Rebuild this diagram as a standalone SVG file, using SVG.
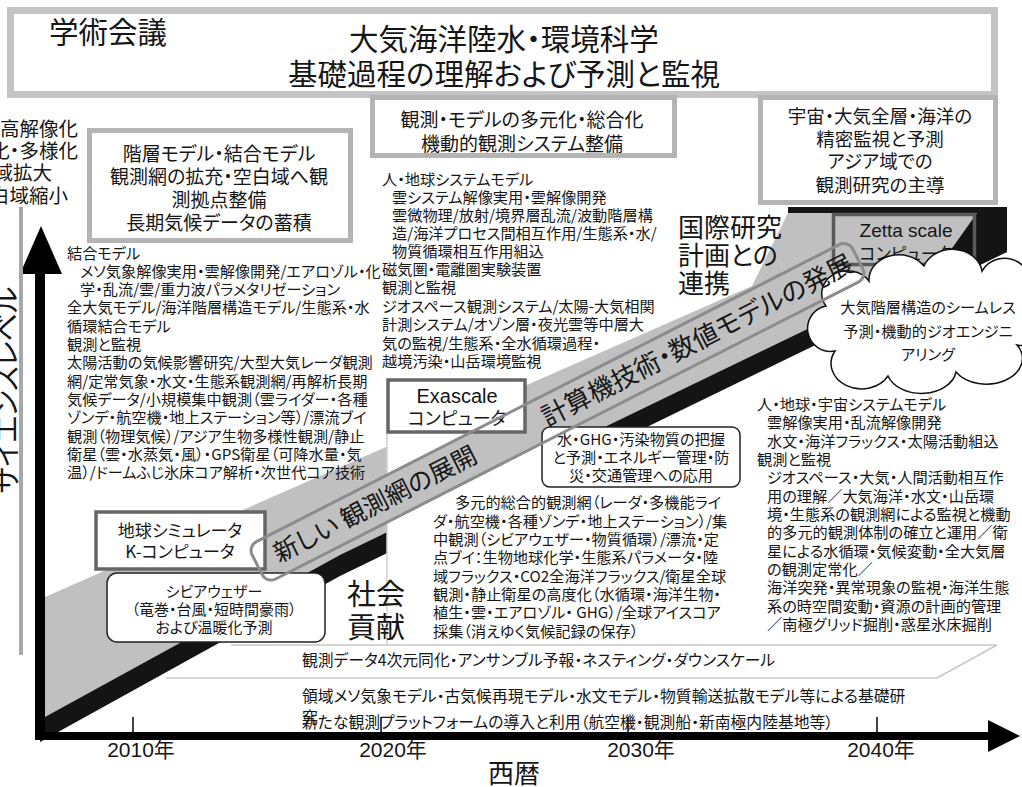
<svg xmlns="http://www.w3.org/2000/svg" width="1022" height="787" viewBox="0 0 1022 787">
<style>
.t{font-family:"Noto Sans CJK JP","Noto Sans CJK SC",sans-serif;fill:#161616;font-feature-settings:"palt"}
.b{font-size:15.2px}
.m{text-anchor:middle}
.lat{font-family:"Liberation Sans","Noto Sans CJK JP",sans-serif;fill:#161616}
.gbox{fill:#fff;stroke:#b4b4b4;stroke-width:5}
.dbox{fill:#fff;stroke:#666;stroke-width:3.5}
.faint{fill:none;stroke:#c8c8c8;stroke-width:1.5}
</style>
<rect width="1022" height="787" fill="#fff"/>

<g id="ramp">
<polygon points="40,742 40,712 340,551 1007,233 1007,252 340,576" fill="#141414"/>
<polygon points="45,597 752,286 788,213 977,213 940,265 340,555 45,717" fill="#c0c0c0"/>
<polygon points="788,207 1007,207 1007,252 935,272 940,265 977,213 788,213" fill="#141414"/>
</g>

<g id="lower-panel">
<rect x="387" y="433" width="366" height="212" fill="#fff"/>
<line x1="387" y1="433" x2="387" y2="645" stroke="#d0d0d0" stroke-width="1.5"/>
<polyline class="faint" points="231,645 997,645 937,678"/>
<line class="faint" x1="166" y1="678" x2="937" y2="678"/>
</g>

<g id="band-fill">
<rect transform="translate(561,410) rotate(-27)" x="-341" y="-21" width="674" height="42" rx="10" fill="#c0c0c0"/>
</g>

<g id="axes">
<line x1="40" y1="268" x2="40" y2="740" stroke="#000" stroke-width="10"/>
<polygon points="41,226 20,274 62,274" fill="#000"/>
<line x1="35" y1="736" x2="990" y2="736" stroke="#000" stroke-width="8"/>
<polygon points="988,720 1020,736 988,752" fill="#000"/>
<g stroke="#000" stroke-width="1.5">
<line x1="133" y1="717" x2="133" y2="736"/>
<line x1="381" y1="717" x2="381" y2="736"/>
<line x1="628" y1="717" x2="628" y2="736"/>
<line x1="877" y1="717" x2="877" y2="736"/>
</g>
<g class="lat m" font-size="21">
<text x="141" y="757">2010<tspan class="t">年</tspan></text>
<text x="393" y="757">2020<tspan class="t">年</tspan></text>
<text x="641" y="757">2030<tspan class="t">年</tspan></text>
<text x="881" y="757">2040<tspan class="t">年</tspan></text>
</g>
<text class="t" x="488" y="783" font-size="26">西暦</text>
<line x1="21" y1="207" x2="21" y2="655" stroke="#a8a8a8" stroke-width="4"/>
<text class="t m" transform="translate(17,390) rotate(-90)" font-size="28">サイエンスレベル</text>
</g>

<g id="title">
<rect x="10.5" y="10.5" width="984" height="84" fill="#fff" stroke="#c4c4c4" stroke-width="7"/>
<text class="t" x="49" y="43" font-size="29.5">学術会議</text>
<text class="t m" x="504" y="50" font-size="29.5">大気海洋陸水・環境科学</text>
<text class="t m" x="504" y="85" font-size="29.5">基礎過程の理解および予測と監視</text>
</g>

<g id="left-goals" class="t" font-size="19.5" text-anchor="end">
<text x="78" y="136">高解像化</text>
<text x="78" y="158">化・多様化</text>
<text x="52" y="180">域拡大</text>
<text x="68" y="203">白域縮小</text>
</g>

<g id="box-2010">
<rect class="gbox" x="89.5" y="130.5" width="261" height="110"/>
<g class="t m" font-size="19">
<text x="219" y="161">階層モデル・結合モデル</text>
<text x="219" y="184">観測網の拡充・空白域へ観</text>
<text x="219" y="207">測拠点整備</text>
<text x="219" y="230">長期気候データの蓄積</text>
</g>
</g>

<g id="box-2020">
<rect class="gbox" x="372.5" y="97.5" width="302" height="58"/>
<g class="t m" font-size="19">
<text x="522" y="127">観測・モデルの多元化・総合化</text>
<text x="522" y="151">機動的観測システム整備</text>
</g>
</g>

<g id="box-2040">
<rect class="gbox" x="760.5" y="97.5" width="235" height="105"/>
<g class="t m" font-size="18.5">
<text x="880" y="123">宇宙・大気全層・海洋の</text>
<text x="880" y="146">精密監視と予測</text>
<text x="880" y="168">アジア域での</text>
<text x="880" y="192">観測研究の主導</text>
</g>
</g>

<g id="text-left" class="t b">
<text x="67" y="259">結合モデル</text>
<text x="80" y="277">メソ気象解像実用・雲解像開発/エアロゾル・化</text>
<text x="80" y="295">学・乱流/雲/重力波パラメタリゼーション</text>
<text x="67" y="313">全大気モデル/海洋階層構造モデル/生態系・水</text>
<text x="67" y="332">循環結合モデル</text>
<text x="67" y="350">観測と監視</text>
<text x="67" y="368">太陽活動の気候影響研究/大型大気レーダ観測</text>
<text x="67" y="387">網/定常気象・水文・生態系観測網/再解析長期</text>
<text x="67" y="405">気候データ/小規模集中観測（雲ライダー・各種</text>
<text x="67" y="423">ゾンデ・航空機・地上ステーション等）/漂流ブイ</text>
<text x="67" y="442">観測（物理気候）/アジア生物多様性観測/静止</text>
<text x="67" y="460">衛星（雲・水蒸気・風）・GPS衛星（可降水量・気</text>
<text x="67" y="478">温）/ドームふじ氷床コア解析・次世代コア技術</text>
</g>

<g id="text-mid" class="t b">
<text x="382" y="185">人・地球システムモデル</text>
<text x="392" y="203">雲システム解像実用・雲解像開発</text>
<text x="392" y="221">雲微物理/放射/境界層乱流/波動階層構</text>
<text x="392" y="239">造/海洋プロセス間相互作用/生態系・水/</text>
<text x="392" y="257">物質循環相互作用組込</text>
<text x="382" y="275">磁気圏・電離圏実験装置</text>
<text x="382" y="293">観測と監視</text>
<text x="382" y="312">ジオスペース観測システム/太陽-大気相関</text>
<text x="382" y="330">計測システム/オゾン層・夜光雲等中層大</text>
<text x="382" y="349">気の監視/生態系・全水循環過程・</text>
<text x="382" y="367">越境汚染・山岳環境監視</text>
</g>

<g id="intl" class="t" font-size="26">
<text x="678" y="237">国際研究</text>
<text x="678" y="265">計画との</text>
<text x="678" y="293">連携</text>
</g>

<g id="zetta">
<rect x="833.5" y="214.5" width="141" height="50" fill="none" stroke="#5a5a5a" stroke-width="3.5"/>
<text class="lat m" x="906" y="237" font-size="19">Zetta scale</text>
<text class="t m" x="906" y="260" font-size="17">コンピュータ</text>
</g>

<g id="cloud">
<path d="M826,306 A25,22 0 0 1 869,281 A30,25 0 0 1 924,266 A30,25 0 0 1 982,271 A25,25 0 0 1 1027,298 A22,22 0 0 1 1017,345 A35,25 0 0 1 956,372 A35,25 0 0 1 888,376 A30,25 0 0 1 835,351 A22,22 0 0 1 826,306 Z" fill="#fff" stroke="#111" stroke-width="1.5"/>
<g class="t b m">
<text x="928" y="313">大気階層構造のシームレス</text>
<text x="928" y="337">予測・機動的ジオエンジニ</text>
<text x="928" y="360">アリング</text>
</g>
</g>

<g id="exascale">
<rect class="dbox" x="388" y="380" width="137" height="52"/>
<text class="lat m" x="457" y="403" font-size="20">Exascale</text>
<text class="t m" x="457" y="425" font-size="18">コンピュータ</text>
</g>

<g id="earth-sim">
<rect class="dbox" x="96" y="512" width="169" height="57"/>
<text class="t m" x="180" y="537" font-size="17">地球シミュレータ</text>
<text class="t m" x="180" y="558" font-size="17">K-コンピュータ</text>
</g>

<g id="severe">
<rect x="107" y="573" width="218" height="69" rx="10" fill="#fff" stroke="#222" stroke-width="1.5"/>
<g class="t m" font-size="15">
<text x="214" y="597">シビアウェザー</text>
<text x="214" y="615">（竜巻・台風・短時間豪雨）</text>
<text x="214" y="633">および温暖化予測</text>
</g>
</g>

<g id="society" class="t" font-size="29">
<text x="347" y="605">社会</text>
<text x="347" y="638">貢献</text>
</g>

<g id="ghg">
<rect x="542" y="427" width="198" height="60" rx="8" fill="#fff" stroke="#222" stroke-width="1.5"/>
<g class="t b m">
<text x="641" y="445">水・GHG・汚染物質の把握</text>
<text x="641" y="463">と予測・エネルギー管理・防</text>
<text x="641" y="481">災・交通管理への応用</text>
</g>
</g>

<g id="text-lowmid" class="t b">
<text x="455" y="508">多元的総合的観測網（レーダ・多機能ライ</text>
<text x="433" y="527">ダ・航空機・各種ゾンデ・地上ステーション）/集</text>
<text x="433" y="545">中観測（シビアウェザー・物質循環）/漂流・定</text>
<text x="433" y="563">点ブイ：生物地球化学・生態系パラメータ・陸</text>
<text x="433" y="582">域フラックス・CO2全海洋フラックス/衛星全球</text>
<text x="433" y="600">観測・静止衛星の高度化（水循環・海洋生物・</text>
<text x="433" y="618">植生・雲・エアロゾル・ GHG）/全球アイスコア</text>
<text x="433" y="637">採集（消えゆく気候記録の保存）</text>
</g>

<g id="text-right" class="t b">
<text x="757" y="410">人・地球・宇宙システムモデル</text>
<text x="767" y="428">雲解像実用・乱流解像開発</text>
<text x="767" y="447">水文・海洋フラックス・太陽活動組込</text>
<text x="757" y="465">観測と監視</text>
<text x="767" y="483">ジオスペース・大気・人間活動相互作</text>
<text x="767" y="502">用の理解／大気海洋・水文・山岳環</text>
<text x="767" y="520">境・生態系の観測網による監視と機動</text>
<text x="767" y="538">的多元的観測体制の確立と運用／衛</text>
<text x="767" y="557">星による水循環・気候変動・全大気層</text>
<text x="767" y="575">の観測定常化／</text>
<text x="767" y="593">海洋突発・異常現象の監視・海洋生態</text>
<text x="767" y="612">系の時空間変動・資源の計画的管理</text>
<text x="767" y="630">／南極グリッド掘削・惑星氷床掘削</text>
</g>

<g id="text-bottom" class="t" font-size="15.8">
<text x="302" y="666">観測データ4次元同化・アンサンブル予報・ネスティング・ダウンスケール</text>
<text x="302" y="702">領域メソ気象モデル・古気候再現モデル・水文モデル・物質輸送拡散モデル等による基礎研</text>
<text x="302" y="723">究</text>
<text x="302" y="728">新たな観測プラットフォームの導入と利用（航空機・観測船・新南極内陸基地等）</text>
</g>

<g id="connectors">
<rect transform="translate(561,410) rotate(-27)" x="-341" y="-21" width="674" height="42" rx="10" fill="none" stroke="#8c8c8c" stroke-width="3"/>
<text class="t m" transform="translate(375,504) rotate(-27)" y="9" font-size="25">新しい 観測網の展開</text>
<text class="t m" transform="translate(697,340) rotate(-27)" y="9.5" font-size="26">計算機技術・数値モデルの発展</text>
</g>
</svg>
